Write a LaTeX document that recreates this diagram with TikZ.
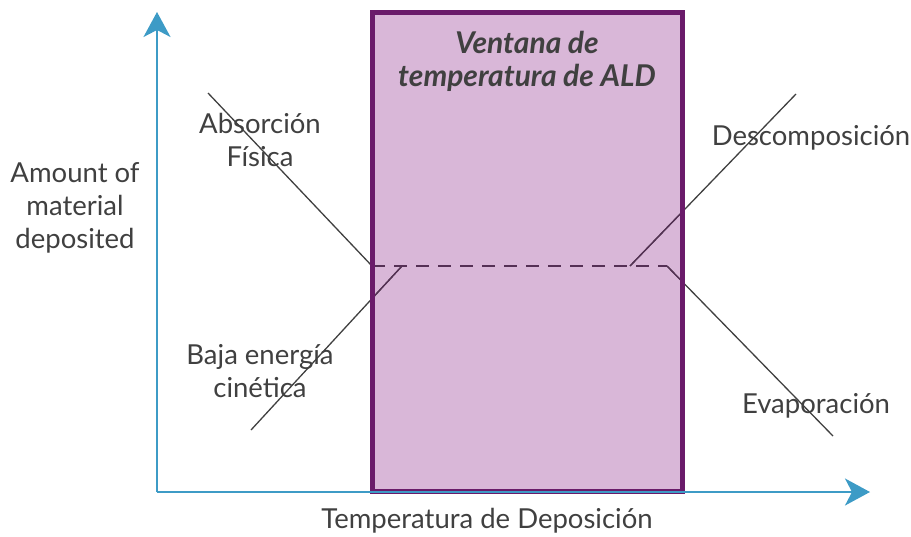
\documentclass[tikz,border=0pt]{standalone}
\usepackage{fontspec}
\setmainfont{Lato}
\usetikzlibrary{arrows.meta}
\definecolor{axisblue}{HTML}{3D9BC6}
\definecolor{winfill}{HTML}{D9B7D8}
\definecolor{winborder}{HTML}{6A1B6A}
\definecolor{txt}{HTML}{404040}
\definecolor{inline}{HTML}{553055}
\tikzset{
  axis/.style={draw=axisblue, line width=2pt, -{Stealth[length=25pt,width=27pt,inset=7pt]}},
  lbl/.style={text=txt, align=center, font=\fontsize{27.5}{33}\selectfont, inner sep=0pt},
  curve/.style={draw=txt, line width=1.3pt},
  dashline/.style={line width=1.5pt, dash pattern=on 13pt off 9pt}
}
\begin{document}
\begin{tikzpicture}[x=1pt,y=-1pt]
\useasboundingbox (0,0) rectangle (911,536);
% window
\coordinate (wnw) at (372.5,12.5);
\coordinate (wse) at (682,491.5);
\fill[winfill] (wnw) rectangle (wse);
% coordinates
\coordinate (o) at (157,492);
\coordinate (ytip) at (157,12);
\coordinate (xtip) at (870,492);
\coordinate (a1) at (208,93);
\coordinate (a2) at (372,266);
\coordinate (b1) at (251,430);
\coordinate (b2) at (402,266);
\coordinate (d1) at (630,266);
\coordinate (d2) at (796,94);
\coordinate (e1) at (667,266);
\coordinate (e2) at (833,436);
% lines outside
\draw[curve] (a1) -- (a2);
\draw[curve] (b1) -- (b2);
\draw[curve] (d1) -- (d2);
\draw[curve] (e1) -- (e2);
% inside window, purple tinted
\begin{scope}
\clip (wnw) rectangle (wse);
\draw[curve, draw=inline] (a1) -- (a2);
\draw[curve, draw=inline] (b1) -- (b2);
\draw[curve, draw=inline] (d1) -- (d2);
\draw[curve, draw=inline] (e1) -- (e2);
\end{scope}
\draw[dashline, draw=inline] (a2) -- (e1);
% border over lines
\draw[winborder, line width=5pt] (wnw) rectangle (wse);
% axes
\draw[axis] (o) -- (ytip);
\draw[axis] (o) -- (xtip);
% labels
\node[lbl, font=\fontsize{30}{33}\selectfont\bfseries\itshape] (title) at (527,61) {Ventana de\\temperatura de ALD};
\node[lbl] (abs) at (260,140) {Absorción\\Física};
\node[lbl] (baja) at (260,371) {Baja energía\\cinética};
\node[lbl] (desc) at (811,138) {Descomposición};
\node[lbl] (evap) at (816,406) {Evaporación};
\node[lbl] (amt) at (75,208) {Amount of\\material\\deposited};
\node[lbl] (temp) at (487,521) {Temperatura de Deposición};
\end{tikzpicture}
\end{document}
